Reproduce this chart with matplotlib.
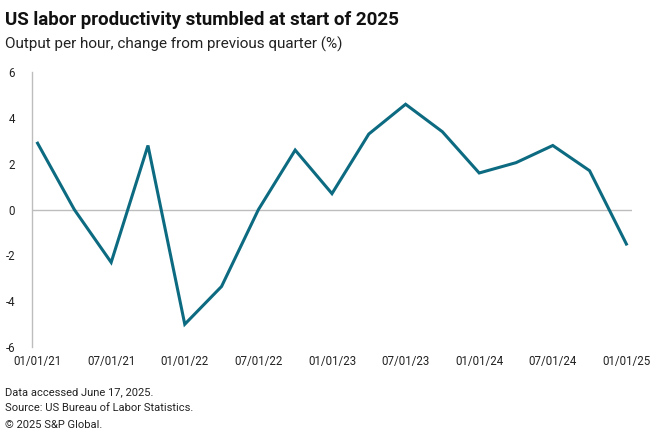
import matplotlib
matplotlib.use("Agg")
import matplotlib.pyplot as plt
import numpy as np

plt.rcParams["font.family"] = ["Roboto", "DejaVu Sans"]

# quarterly change in output per hour (%)
quarters = [
    "01/01/21", "04/01/21", "07/01/21", "10/01/21",
    "01/01/22", "04/01/22", "07/01/22", "10/01/22",
    "01/01/23", "04/01/23", "07/01/23", "10/01/23",
    "01/01/24", "04/01/24", "07/01/24", "10/01/24",
    "01/01/25",
]
productivity = [2.9, 0.0, -2.3, 2.8, -5.0, -3.35, 0.0, 2.6, 0.7, 3.3, 4.6, 3.4,
                1.6, 2.05, 2.8, 1.7, -1.5]
y_ticks = [-6, -4, -2, 0, 2, 4, 6]

line_color = "#0D6B81"
axis_grey = "#BDBDBD"

fig = plt.figure(figsize=(6.6, 4.4), dpi=100)
ax = fig.add_axes([0.048, 0.211, 0.910, 0.625])

x = np.arange(len(quarters))
ax.axhline(0, color=axis_grey, lw=1.0, zorder=1)
ax.plot(x, productivity, color=line_color, lw=2.2, solid_joinstyle="miter", zorder=3)

ax.set_xlim(-0.16, len(quarters) - 1 + 0.16)
ax.set_ylim(-6, 6)
ax.set_yticks(y_ticks)
ax.set_yticklabels([str(v) for v in y_ticks])
ax.set_xticks(x[::2])
ax.set_xticklabels(quarters[::2])

for side in ["top", "right", "bottom"]:
    ax.spines[side].set_visible(False)
ax.spines["left"].set_color(axis_grey)
ax.spines["left"].set_linewidth(1.0)
ax.tick_params(axis="both", length=0, labelsize=8.3, colors="#222222")
ax.tick_params(axis="y", pad=12)
ax.tick_params(axis="x", pad=6)

fig.text(0.008, 0.955, "US labor productivity stumbled at start of 2025",
         fontsize=13.5, fontweight="bold", color="#111111", va="center")
fig.text(0.008, 0.900, "Output per hour, change from previous quarter (%)",
         fontsize=11, color="#222222", va="center")

footer = ["Data accessed June 17, 2025.",
          "Source: US Bureau of Labor Statistics.",
          "\u00a9 2025 S&P Global."]
for i, line in enumerate(footer):
    fig.text(0.008, 0.109 - i * 0.037, line, fontsize=8, color="#222222", va="center")

fig.savefig("out.png", dpi=100)
